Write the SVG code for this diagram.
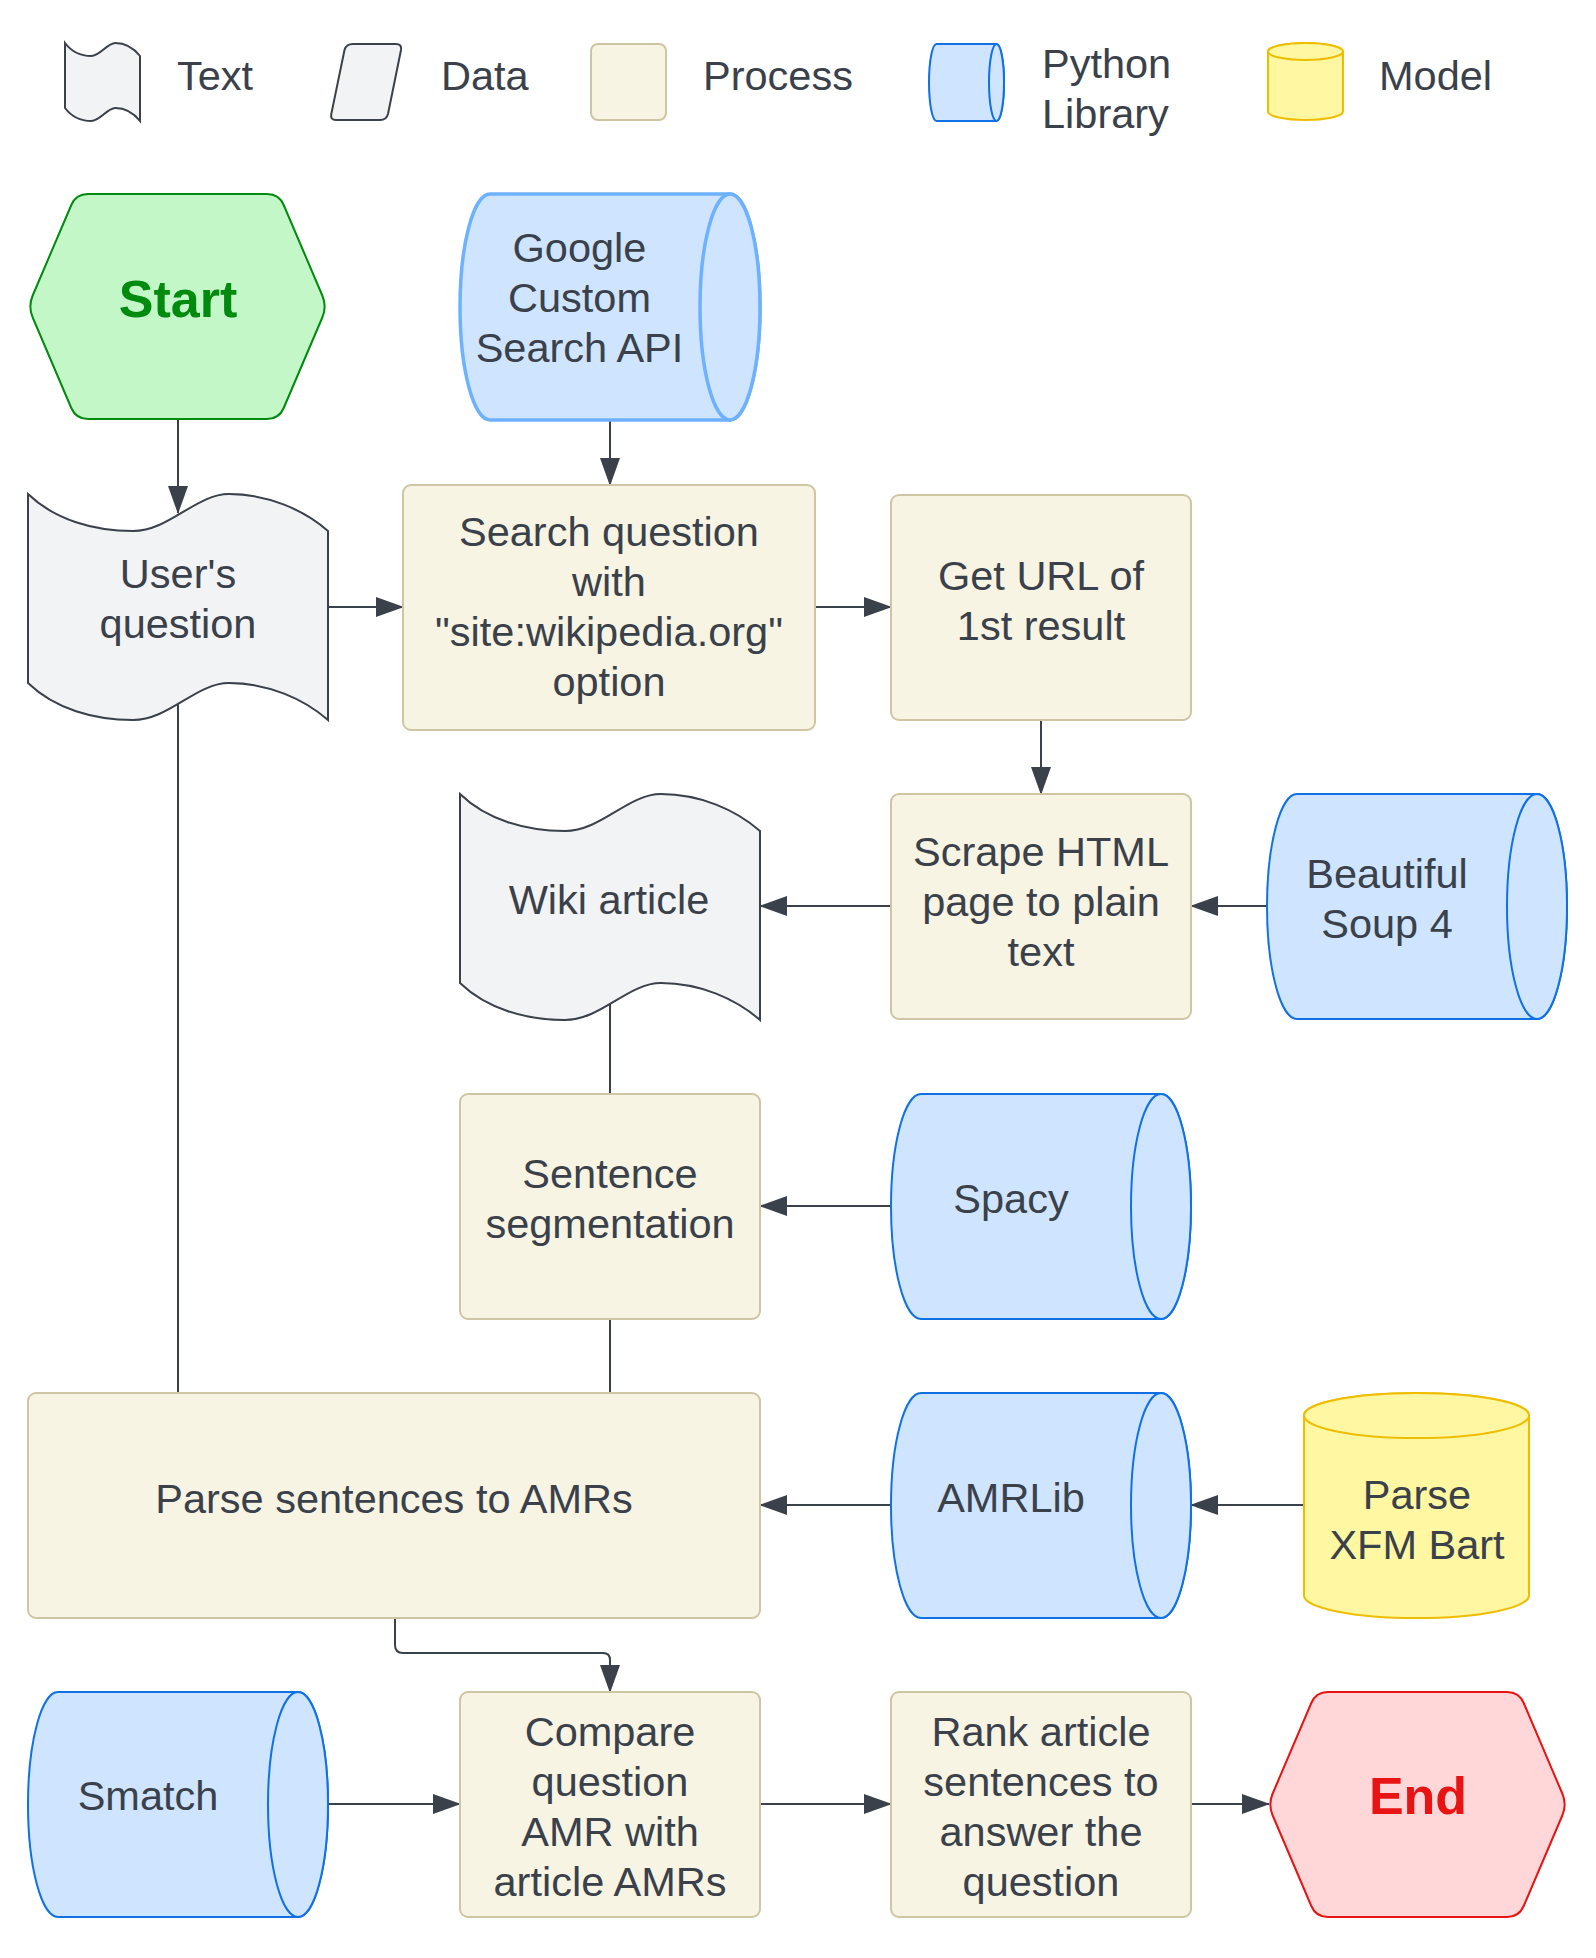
<svg xmlns="http://www.w3.org/2000/svg" width="1596" height="1958" viewBox="0 0 1596 1958">
<style>
  text { font-family: "Liberation Sans", Arial, sans-serif; font-size: 41.5px; fill: #3A414A; }
  .c { text-anchor: middle; }
  .tape { fill: #F2F3F5; stroke: #3A414A; stroke-width: 2; }
  .proc { fill: #F7F4E3; stroke: #CEC5A3; stroke-width: 2; }
  .lib { fill: #CFE4FF; stroke: #1071E5; stroke-width: 2; }
  .libLight { fill: #CFE4FF; stroke: #6DB1FF; stroke-width: 3.5; }
  .model { fill: #FFF7A1; stroke: #EFBD00; stroke-width: 2; }
  .conn { fill: none; stroke: #3A414A; stroke-width: 2; }
  .arr { marker-end: url(#ah); }
  .startT { font-weight: bold; font-size: 52px; fill: #008A0E; }
  .endT { font-weight: bold; font-size: 52px; fill: #E81313; }
</style>
<defs>
  <marker id="ah" markerUnits="userSpaceOnUse" markerWidth="28" markerHeight="20" refX="27" refY="10" orient="auto">
    <path d="M0,0 L28,10 L0,20 Z" fill="#3A414A"/>
  </marker>
</defs>
<rect width="1596" height="1958" fill="#FFFFFF"/>

<!-- Legend -->
<g id="legend-text">
  <path class="tape" d="M65,43 C71.8,52 81.5,56 91.3,56 C100.3,56 107,43 115.3,43 C125,43 134,48.5 140,56 L140,121 C134,113.5 125,108 115.3,108 C107,108 100.3,121 91.3,121 C81.5,121 71.8,117 65,108 Z"/>
  <text x="177" y="90">Text</text>
</g>
<g id="legend-data">
  <path class="tape" d="M353,44 L396,44 Q402,44 401,50 L388,114 Q386.5,120 380,120 L336,120 Q330,120 331.3,114 L344.5,50 Q346,44 353,44 Z"/>
  <text x="441" y="90">Data</text>
</g>
<g id="legend-process">
  <rect class="proc" x="591" y="44" width="75" height="76" rx="7"/>
  <text x="703" y="90">Process</text>
</g>
<g id="legend-python">
  <path class="lib" d="M936.5,44 L996.5,44 A7.5,38.5 0 0 1 996.5,121 L936.5,121 A7.5,38.5 0 0 1 936.5,44 Z"/>
  <ellipse class="lib" cx="996.5" cy="82.5" rx="7.5" ry="38.5"/>
  <text x="1042" y="78">Python</text>
  <text x="1042" y="128">Library</text>
</g>
<g id="legend-model">
  <path class="model" d="M1268,51.5 A37.5,8.5 0 0 1 1343,51.5 L1343,111.5 A37.5,8.5 0 0 1 1268,111.5 Z"/>
  <ellipse class="model" cx="1305.5" cy="51.5" rx="37.5" ry="8.5"/>
  <text x="1379" y="90">Model</text>
</g>

<!-- Connectors -->
<g id="connectors">
  <path class="conn arr" d="M178,419 L178,513"/>
  <path class="conn arr" d="M610,421 L610,485"/>
  <path class="conn arr" d="M328,607 L403,607"/>
  <path class="conn arr" d="M815,607 L891,607"/>
  <path class="conn arr" d="M1041,720 L1041,794"/>
  <path class="conn arr" d="M891,906 L760,906"/>
  <path class="conn arr" d="M1268,906 L1191,906"/>
  <path class="conn" d="M610,1003 L610,1094"/>
  <path class="conn arr" d="M891,1206 L760,1206"/>
  <path class="conn" d="M178,703 L178,1393"/>
  <path class="conn" d="M610,1319 L610,1393"/>
  <path class="conn arr" d="M891,1505 L760,1505"/>
  <path class="conn arr" d="M1304,1505 L1191,1505"/>
  <path class="conn arr" d="M395,1618 L395,1645 Q395,1653 403,1653 L603,1653 Q610,1653 610,1660 L610,1692"/>
  <path class="conn arr" d="M328,1804 L460,1804"/>
  <path class="conn arr" d="M760,1804 L891,1804"/>
  <path class="conn arr" d="M1191,1804 L1269,1804"/>
</g>

<!-- Nodes -->
<g id="start">
  <path fill="#C3F7C8" stroke="#008A0E" stroke-width="2" d="M32.7,295.5 L71.3,205 Q76,194 88,194 L267,194 Q279,194 283.7,205 L322.3,295.5 Q327,306.5 322.3,317.5 L283.7,408 Q279,419 267,419 L88,419 Q76,419 71.3,408 L32.7,317.5 Q28,306.5 32.7,295.5 Z"/>
  <text class="c startT" x="178" y="317">Start</text>
</g>
<g id="google-api">
  <path class="libLight" d="M490,194 L730,194 A30,113 0 0 1 730,420 L490,420 A30,113 0 0 1 490,194 Z"/>
  <ellipse class="libLight" cx="730" cy="307" rx="30" ry="113"/>
  <text class="c" x="579.5" y="262">Google</text>
  <text class="c" x="579.5" y="312">Custom</text>
  <text class="c" x="579.5" y="362">Search API</text>
</g>
<g id="users-question">
  <path class="tape" d="M28,494 C55,520 94,531 133,531 C169,531 196,494 229,494 C268,494 304,510 328,531 L328,720 C304,699 268,683 229,683 C196,683 169,720 133,720 C94,720 55,709 28,683 Z"/>
  <text class="c" x="178" y="588">User's</text>
  <text class="c" x="178" y="638">question</text>
</g>
<g id="search-question">
  <rect class="proc" x="403" y="485" width="412" height="245" rx="8"/>
  <text class="c" x="609" y="546">Search question</text>
  <text class="c" x="609" y="596">with</text>
  <text class="c" x="609" y="646">"site:wikipedia.org"</text>
  <text class="c" x="609" y="696">option</text>
</g>
<g id="get-url">
  <rect class="proc" x="891" y="495" width="300" height="225" rx="8"/>
  <text class="c" x="1041" y="590">Get URL of</text>
  <text class="c" x="1041" y="640">1st result</text>
</g>
<g id="wiki-article">
  <path class="tape" d="M460,794 C487,820 526,831 565,831 C601,831 628,794 661,794 C700,794 736,810 760,831 L760,1020 C736,999 700,983 661,983 C628,983 601,1020 565,1020 C526,1020 487,1009 460,983 Z"/>
  <text class="c" x="609" y="914">Wiki article</text>
</g>
<g id="scrape-html">
  <rect class="proc" x="891" y="794" width="300" height="225" rx="8"/>
  <text class="c" x="1041" y="866">Scrape HTML</text>
  <text class="c" x="1041" y="916">page to plain</text>
  <text class="c" x="1041" y="966">text</text>
</g>
<g id="beautiful-soup">
  <path class="lib" d="M1297,794 L1537,794 A30,112.5 0 0 1 1537,1019 L1297,1019 A30,112.5 0 0 1 1297,794 Z"/>
  <ellipse class="lib" cx="1537" cy="906.5" rx="30" ry="112.5"/>
  <text class="c" x="1387" y="888">Beautiful</text>
  <text class="c" x="1387" y="938">Soup 4</text>
</g>
<g id="sentence-segmentation">
  <rect class="proc" x="460" y="1094" width="300" height="225" rx="8"/>
  <text class="c" x="610" y="1188">Sentence</text>
  <text class="c" x="610" y="1238">segmentation</text>
</g>
<g id="spacy">
  <path class="lib" d="M921,1094 L1161,1094 A30,112.5 0 0 1 1161,1319 L921,1319 A30,112.5 0 0 1 921,1094 Z"/>
  <ellipse class="lib" cx="1161" cy="1206.5" rx="30" ry="112.5"/>
  <text class="c" x="1011" y="1213">Spacy</text>
</g>
<g id="parse-amrs">
  <rect class="proc" x="28" y="1393" width="732" height="225" rx="8"/>
  <text class="c" x="394" y="1513">Parse sentences to AMRs</text>
</g>
<g id="amrlib">
  <path class="lib" d="M921,1393 L1161,1393 A30,112.5 0 0 1 1161,1618 L921,1618 A30,112.5 0 0 1 921,1393 Z"/>
  <ellipse class="lib" cx="1161" cy="1505.5" rx="30" ry="112.5"/>
  <text class="c" x="1011" y="1512">AMRLib</text>
</g>
<g id="parse-xfm-bart">
  <path class="model" d="M1304,1415.5 A112.5,22.5 0 0 1 1529,1415.5 L1529,1595.5 A112.5,22.5 0 0 1 1304,1595.5 Z"/>
  <ellipse class="model" cx="1416.5" cy="1415.5" rx="112.5" ry="22.5"/>
  <text class="c" x="1417" y="1509">Parse</text>
  <text class="c" x="1417" y="1559">XFM Bart</text>
</g>
<g id="smatch">
  <path class="lib" d="M58,1692 L298,1692 A30,112.5 0 0 1 298,1917 L58,1917 A30,112.5 0 0 1 58,1692 Z"/>
  <ellipse class="lib" cx="298" cy="1804.5" rx="30" ry="112.5"/>
  <text class="c" x="148" y="1810">Smatch</text>
</g>
<g id="compare">
  <rect class="proc" x="460" y="1692" width="300" height="225" rx="8"/>
  <text class="c" x="610" y="1746">Compare</text>
  <text class="c" x="610" y="1796">question</text>
  <text class="c" x="610" y="1846">AMR with</text>
  <text class="c" x="610" y="1896">article AMRs</text>
</g>
<g id="rank">
  <rect class="proc" x="891" y="1692" width="300" height="225" rx="8"/>
  <text class="c" x="1041" y="1746">Rank article</text>
  <text class="c" x="1041" y="1796">sentences to</text>
  <text class="c" x="1041" y="1846">answer the</text>
  <text class="c" x="1041" y="1896">question</text>
</g>
<g id="end">
  <path fill="#FFD7D9" stroke="#E81313" stroke-width="2" d="M1272.7,1793.5 L1311.3,1703 Q1316,1692 1328,1692 L1507,1692 Q1519,1692 1523.7,1703 L1562.3,1793.5 Q1567,1804.5 1562.3,1815.5 L1523.7,1906 Q1519,1917 1507,1917 L1328,1917 Q1316,1917 1311.3,1906 L1272.7,1815.5 Q1268,1804.5 1272.7,1793.5 Z"/>
  <text class="c endT" x="1418" y="1814">End</text>
</g>
</svg>
